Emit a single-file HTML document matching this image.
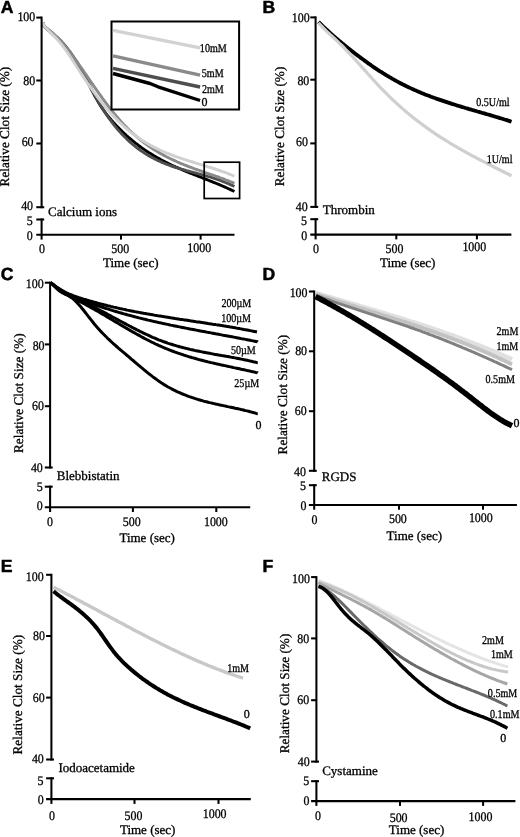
<!DOCTYPE html><html><head><meta charset="utf-8"><style>html,body{margin:0;padding:0;background:#fff;overflow:hidden}svg{display:block;filter:grayscale(1)}text{text-rendering:geometricPrecision}</style></head><body>
<svg width="520" height="837" viewBox="0 0 520 837">
<rect width="520" height="837" fill="#fff"/>
<path d="M43.2,22.8 L44.0,26.0 L45.5,27.5 L47.0,29.0 L48.5,30.4 L50.0,31.7 L51.5,33.0 L53.0,34.3 L54.5,35.6 L56.0,36.9 L57.5,38.2 L59.0,39.6 L60.5,41.1 L62.0,42.6 L63.5,44.3 L65.0,46.0 L66.5,47.8 L68.0,49.7 L69.5,51.7 L71.0,53.7 L72.5,55.9 L74.0,58.1 L75.5,60.5 L77.0,62.9 L78.5,65.4 L80.0,68.0 L81.5,70.6 L83.0,73.4 L84.5,76.2 L86.0,79.1 L87.5,81.9 L89.0,84.8 L90.5,87.7 L92.0,90.6 L93.5,93.4 L95.0,96.2 L96.5,98.9 L98.0,101.5 L99.5,104.0 L101.0,106.4 L102.5,108.6 L104.0,110.8 L105.5,112.9 L107.0,114.8 L108.5,116.7 L110.0,118.5 L111.5,120.3 L113.0,122.0 L114.5,123.6 L116.0,125.2 L117.5,126.8 L119.0,128.3 L120.5,129.8 L122.0,131.3 L123.5,132.7 L125.0,134.1 L126.5,135.5 L128.0,136.8 L129.5,138.1 L131.0,139.4 L132.5,140.7 L134.0,141.9 L135.5,143.1 L137.0,144.2 L138.5,145.4 L140.0,146.5 L141.5,147.6 L143.0,148.6 L144.5,149.7 L146.0,150.7 L147.5,151.7 L149.0,152.7 L150.5,153.6 L152.0,154.5 L153.5,155.5 L155.0,156.3 L156.5,157.2 L158.0,158.1 L159.5,158.9 L161.0,159.7 L162.5,160.5 L164.0,161.3 L165.5,162.1 L167.0,162.8 L168.5,163.6 L170.0,164.3 L171.5,165.0 L173.0,165.7 L174.5,166.4 L176.0,167.1 L177.5,167.7 L179.0,168.4 L180.5,169.0 L182.0,169.7 L183.5,170.3 L185.0,170.9 L186.5,171.6 L188.0,172.2 L189.5,172.8 L191.0,173.4 L192.5,174.0 L194.0,174.6 L195.5,175.2 L197.0,175.7 L198.5,176.3 L200.0,176.9 L201.5,177.5 L203.0,178.1 L204.5,178.7 L206.0,179.3 L207.5,179.9 L209.0,180.5 L210.5,181.1 L212.0,181.7 L213.5,182.3 L215.0,182.9 L216.5,183.5 L218.0,184.1 L219.5,184.7 L221.0,185.4 L222.5,186.0 L224.0,186.7 L225.5,187.3 L227.0,188.0 L228.5,188.7 L230.0,189.4 L231.5,190.1 L233.0,190.8 L234.4,191.5" fill="none" stroke="#000" stroke-width="2.9" stroke-linejoin="round" stroke-linecap="butt" />
<path d="M43.2,22.8 L44.0,26.2 L45.5,27.5 L47.0,28.7 L48.5,30.0 L50.0,31.2 L51.5,32.4 L53.0,33.7 L54.5,35.0 L56.0,36.3 L57.5,37.6 L59.0,39.1 L60.5,40.6 L62.0,42.1 L63.5,43.8 L65.0,45.5 L66.5,47.4 L68.0,49.3 L69.5,51.3 L71.0,53.3 L72.5,55.5 L74.0,57.7 L75.5,60.0 L77.0,62.4 L78.5,64.9 L80.0,67.5 L81.5,70.1 L83.0,72.8 L84.5,75.6 L86.0,78.4 L87.5,81.3 L89.0,84.1 L90.5,87.0 L92.0,89.9 L93.5,92.7 L95.0,95.5 L96.5,98.3 L98.0,101.0 L99.5,103.6 L101.0,106.2 L102.5,108.6 L104.0,111.0 L105.5,113.3 L107.0,115.5 L108.5,117.7 L110.0,119.7 L111.5,121.7 L113.0,123.7 L114.5,125.6 L116.0,127.4 L117.5,129.2 L119.0,130.9 L120.5,132.6 L122.0,134.2 L123.5,135.7 L125.0,137.3 L126.5,138.7 L128.0,140.2 L129.5,141.6 L131.0,142.9 L132.5,144.2 L134.0,145.4 L135.5,146.6 L137.0,147.8 L138.5,149.0 L140.0,150.0 L141.5,151.1 L143.0,152.1 L144.5,153.1 L146.0,154.1 L147.5,155.0 L149.0,155.9 L150.5,156.7 L152.0,157.5 L153.5,158.3 L155.0,159.1 L156.5,159.8 L158.0,160.6 L159.5,161.2 L161.0,161.9 L162.5,162.6 L164.0,163.2 L165.5,163.8 L167.0,164.4 L168.5,164.9 L170.0,165.5 L171.5,166.0 L173.0,166.5 L174.5,167.0 L176.0,167.5 L177.5,167.9 L179.0,168.4 L180.5,168.9 L182.0,169.3 L183.5,169.7 L185.0,170.1 L186.5,170.6 L188.0,171.0 L189.5,171.4 L191.0,171.8 L192.5,172.2 L194.0,172.6 L195.5,173.0 L197.0,173.4 L198.5,173.8 L200.0,174.2 L201.5,174.6 L203.0,175.0 L204.5,175.4 L206.0,175.8 L207.5,176.3 L209.0,176.7 L210.5,177.2 L212.0,177.6 L213.5,178.1 L215.0,178.6 L216.5,179.1 L218.0,179.6 L219.5,180.2 L221.0,180.7 L222.5,181.3 L224.0,181.9 L225.5,182.5 L227.0,183.1 L228.5,183.7 L230.0,184.4 L231.5,185.1 L233.0,185.8 L234.4,186.5" fill="none" stroke="#4e4e4e" stroke-width="2.9" stroke-linejoin="round" stroke-linecap="butt" />
<path d="M43.2,22.8 L44.0,26.1 L45.5,27.3 L47.0,28.4 L48.5,29.6 L50.0,30.9 L51.5,32.1 L53.0,33.4 L54.5,34.8 L56.0,36.2 L57.5,37.6 L59.0,39.2 L60.5,40.7 L62.0,42.4 L63.5,44.1 L65.0,45.9 L66.5,47.7 L68.0,49.6 L69.5,51.5 L71.0,53.5 L72.5,55.5 L74.0,57.5 L75.5,59.6 L77.0,61.7 L78.5,63.8 L80.0,66.0 L81.5,68.1 L83.0,70.3 L84.5,72.5 L86.0,74.6 L87.5,76.8 L89.0,79.0 L90.5,81.2 L92.0,83.4 L93.5,85.5 L95.0,87.7 L96.5,89.8 L98.0,92.0 L99.5,94.1 L101.0,96.2 L102.5,98.3 L104.0,100.3 L105.5,102.4 L107.0,104.4 L108.5,106.4 L110.0,108.3 L111.5,110.2 L113.0,112.1 L114.5,114.0 L116.0,115.8 L117.5,117.5 L119.0,119.2 L120.5,120.9 L122.0,122.6 L123.5,124.2 L125.0,125.7 L126.5,127.3 L128.0,128.8 L129.5,130.2 L131.0,131.6 L132.5,133.0 L134.0,134.4 L135.5,135.7 L137.0,137.0 L138.5,138.2 L140.0,139.5 L141.5,140.7 L143.0,141.8 L144.5,143.0 L146.0,144.1 L147.5,145.2 L149.0,146.2 L150.5,147.2 L152.0,148.2 L153.5,149.2 L155.0,150.2 L156.5,151.1 L158.0,152.0 L159.5,152.9 L161.0,153.7 L162.5,154.6 L164.0,155.4 L165.5,156.2 L167.0,157.0 L168.5,157.7 L170.0,158.5 L171.5,159.2 L173.0,159.9 L174.5,160.6 L176.0,161.3 L177.5,162.0 L179.0,162.6 L180.5,163.3 L182.0,163.9 L183.5,164.5 L185.0,165.1 L186.5,165.7 L188.0,166.3 L189.5,166.9 L191.0,167.4 L192.5,168.0 L194.0,168.6 L195.5,169.1 L197.0,169.6 L198.5,170.2 L200.0,170.7 L201.5,171.2 L203.0,171.8 L204.5,172.3 L206.0,172.8 L207.5,173.3 L209.0,173.9 L210.5,174.4 L212.0,174.9 L213.5,175.4 L215.0,175.9 L216.5,176.5 L218.0,177.0 L219.5,177.5 L221.0,178.1 L222.5,178.6 L224.0,179.2 L225.5,179.8 L227.0,180.3 L228.5,180.9 L230.0,181.5 L231.5,182.1 L233.0,182.7 L234.4,183.3" fill="none" stroke="#8a8a8a" stroke-width="2.9" stroke-linejoin="round" stroke-linecap="butt" />
<path d="M43.2,22.8 L44.0,25.7 L45.5,27.4 L47.0,29.0 L48.5,30.6 L50.0,32.1 L51.5,33.6 L53.0,35.1 L54.5,36.6 L56.0,38.1 L57.5,39.7 L59.0,41.4 L60.5,43.2 L62.0,45.1 L63.5,47.0 L65.0,49.1 L66.5,51.2 L68.0,53.3 L69.5,55.6 L71.0,57.8 L72.5,60.1 L74.0,62.5 L75.5,64.8 L77.0,67.2 L78.5,69.5 L80.0,71.8 L81.5,74.1 L83.0,76.4 L84.5,78.6 L86.0,80.9 L87.5,83.1 L89.0,85.2 L90.5,87.4 L92.0,89.5 L93.5,91.6 L95.0,93.6 L96.5,95.6 L98.0,97.6 L99.5,99.6 L101.0,101.5 L102.5,103.4 L104.0,105.3 L105.5,107.1 L107.0,108.9 L108.5,110.6 L110.0,112.3 L111.5,114.0 L113.0,115.6 L114.5,117.2 L116.0,118.8 L117.5,120.3 L119.0,121.8 L120.5,123.2 L122.0,124.6 L123.5,126.0 L125.0,127.3 L126.5,128.6 L128.0,129.9 L129.5,131.1 L131.0,132.3 L132.5,133.5 L134.0,134.6 L135.5,135.7 L137.0,136.8 L138.5,137.9 L140.0,138.9 L141.5,139.9 L143.0,140.8 L144.5,141.8 L146.0,142.7 L147.5,143.6 L149.0,144.4 L150.5,145.3 L152.0,146.1 L153.5,146.9 L155.0,147.6 L156.5,148.4 L158.0,149.1 L159.5,149.8 L161.0,150.5 L162.5,151.2 L164.0,151.9 L165.5,152.5 L167.0,153.1 L168.5,153.7 L170.0,154.3 L171.5,154.9 L173.0,155.5 L174.5,156.0 L176.0,156.6 L177.5,157.1 L179.0,157.6 L180.5,158.2 L182.0,158.7 L183.5,159.2 L185.0,159.6 L186.5,160.1 L188.0,160.6 L189.5,161.1 L191.0,161.5 L192.5,162.0 L194.0,162.5 L195.5,162.9 L197.0,163.4 L198.5,163.8 L200.0,164.3 L201.5,164.8 L203.0,165.2 L204.5,165.7 L206.0,166.1 L207.5,166.6 L209.0,167.1 L210.5,167.5 L212.0,168.0 L213.5,168.5 L215.0,169.0 L216.5,169.5 L218.0,170.0 L219.5,170.5 L221.0,171.0 L222.5,171.6 L224.0,172.1 L225.5,172.7 L227.0,173.2 L228.5,173.8 L230.0,174.4 L231.5,175.0 L233.0,175.6 L234.4,176.2" fill="none" stroke="#d0d0d0" stroke-width="2.9" stroke-linejoin="round" stroke-linecap="butt" />
<rect x="111.5" y="21.5" width="127.6" height="88" fill="#fff" stroke="#000" stroke-width="2"/>
<path d="M113.0,30.4 L200.1,47.8" fill="none" stroke="#d2d2d2" stroke-width="3.4" stroke-linejoin="round" stroke-linecap="butt" />
<path d="M113.0,55.8 L200.1,75.1" fill="none" stroke="#8a8a8a" stroke-width="3.4" stroke-linejoin="round" stroke-linecap="butt" />
<path d="M113.0,68.3 L200.1,87.0" fill="none" stroke="#4e4e4e" stroke-width="3.4" stroke-linejoin="round" stroke-linecap="butt" />
<path d="M113.0,73.5 L150.0,83.5 L158.0,86.8 L200.1,100.5" fill="none" stroke="#000" stroke-width="3.4" stroke-linejoin="round" stroke-linecap="butt" />
<text transform="translate(199.86,52.38) scale(0.840,1)" font-family='"Liberation Serif", serif' font-weight="normal" font-size="12.0"  stroke="#000" stroke-width="0.3">10mM</text>
<text transform="translate(201.83,77.47) scale(0.840,1)" font-family='"Liberation Serif", serif' font-weight="normal" font-size="12.0"  stroke="#000" stroke-width="0.3">5mM</text>
<text transform="translate(201.90,92.57) scale(0.840,1)" font-family='"Liberation Serif", serif' font-weight="normal" font-size="12.0"  stroke="#000" stroke-width="0.3">2mM</text>
<text transform="translate(201.40,106.23)" font-family='"Liberation Serif", serif' font-weight="normal" font-size="12.0"  stroke="#000" stroke-width="0.3">0</text>
<rect x="204.2" y="162.2" width="35.4" height="36.3" fill="none" stroke="#000" stroke-width="1.7"/>
<path d="M318.5,21.8 L320.0,23.3 L321.5,24.8 L323.0,26.3 L324.5,27.7 L326.0,29.1 L327.5,30.5 L329.0,31.9 L330.5,33.3 L332.0,34.6 L333.5,36.0 L335.0,37.3 L336.5,38.6 L338.0,39.8 L339.5,41.1 L341.0,42.3 L342.5,43.6 L344.0,44.8 L345.5,46.0 L347.0,47.2 L348.5,48.4 L350.0,49.6 L351.5,50.8 L353.0,51.9 L354.5,53.1 L356.0,54.2 L357.5,55.4 L359.0,56.5 L360.5,57.6 L362.0,58.7 L363.5,59.8 L365.0,60.9 L366.5,62.0 L368.0,63.1 L369.5,64.2 L371.0,65.2 L372.5,66.3 L374.0,67.3 L375.5,68.3 L377.0,69.3 L378.5,70.3 L380.0,71.3 L381.5,72.2 L383.0,73.2 L384.5,74.1 L386.0,75.0 L387.5,76.0 L389.0,76.8 L390.5,77.7 L392.0,78.6 L393.5,79.4 L395.0,80.3 L396.5,81.1 L398.0,81.9 L399.5,82.7 L401.0,83.5 L402.5,84.3 L404.0,85.0 L405.5,85.8 L407.0,86.5 L408.5,87.2 L410.0,87.9 L411.5,88.6 L413.0,89.3 L414.5,90.0 L416.0,90.6 L417.5,91.3 L419.0,91.9 L420.5,92.5 L422.0,93.2 L423.5,93.8 L425.0,94.4 L426.5,95.0 L428.0,95.5 L429.5,96.1 L431.0,96.7 L432.5,97.2 L434.0,97.8 L435.5,98.3 L437.0,98.9 L438.5,99.4 L440.0,99.9 L441.5,100.4 L443.0,100.9 L444.5,101.4 L446.0,101.9 L447.5,102.4 L449.0,102.9 L450.5,103.4 L452.0,103.9 L453.5,104.3 L455.0,104.8 L456.5,105.3 L458.0,105.7 L459.5,106.2 L461.0,106.6 L462.5,107.1 L464.0,107.5 L465.5,108.0 L467.0,108.4 L468.5,108.9 L470.0,109.3 L471.5,109.7 L473.0,110.2 L474.5,110.6 L476.0,111.0 L477.5,111.5 L479.0,111.9 L480.5,112.3 L482.0,112.8 L483.5,113.2 L485.0,113.6 L486.5,114.1 L488.0,114.5 L489.5,114.9 L491.0,115.4 L492.5,115.8 L494.0,116.3 L495.5,116.7 L497.0,117.2 L498.5,117.6 L500.0,118.1 L501.5,118.5 L503.0,119.0 L504.5,119.5 L506.0,119.9 L507.5,120.4 L509.0,120.9 L510.5,121.4 L511.5,121.7" fill="none" stroke="#000" stroke-width="3.8" stroke-linejoin="round" stroke-linecap="butt" />
<path d="M318.5,22.8 L320.0,24.5 L321.5,26.1 L323.0,27.7 L324.5,29.2 L326.0,30.7 L327.5,32.1 L329.0,33.5 L330.5,34.9 L332.0,36.2 L333.5,37.6 L335.0,39.0 L336.5,40.4 L338.0,41.8 L339.5,43.3 L341.0,44.7 L342.5,46.2 L344.0,47.7 L345.5,49.3 L347.0,50.8 L348.5,52.4 L350.0,54.0 L351.5,55.6 L353.0,57.2 L354.5,58.9 L356.0,60.5 L357.5,62.2 L359.0,63.9 L360.5,65.6 L362.0,67.2 L363.5,68.9 L365.0,70.6 L366.5,72.3 L368.0,74.0 L369.5,75.6 L371.0,77.3 L372.5,79.0 L374.0,80.6 L375.5,82.3 L377.0,83.9 L378.5,85.5 L380.0,87.1 L381.5,88.6 L383.0,90.2 L384.5,91.7 L386.0,93.2 L387.5,94.7 L389.0,96.2 L390.5,97.6 L392.0,99.1 L393.5,100.5 L395.0,101.9 L396.5,103.3 L398.0,104.6 L399.5,106.0 L401.0,107.3 L402.5,108.6 L404.0,109.9 L405.5,111.2 L407.0,112.5 L408.5,113.7 L410.0,114.9 L411.5,116.2 L413.0,117.4 L414.5,118.6 L416.0,119.7 L417.5,120.9 L419.0,122.0 L420.5,123.2 L422.0,124.3 L423.5,125.4 L425.0,126.5 L426.5,127.6 L428.0,128.7 L429.5,129.7 L431.0,130.8 L432.5,131.8 L434.0,132.8 L435.5,133.8 L437.0,134.8 L438.5,135.8 L440.0,136.8 L441.5,137.8 L443.0,138.7 L444.5,139.7 L446.0,140.6 L447.5,141.5 L449.0,142.5 L450.5,143.4 L452.0,144.3 L453.5,145.2 L455.0,146.1 L456.5,146.9 L458.0,147.8 L459.5,148.7 L461.0,149.5 L462.5,150.4 L464.0,151.2 L465.5,152.0 L467.0,152.9 L468.5,153.7 L470.0,154.5 L471.5,155.3 L473.0,156.1 L474.5,156.9 L476.0,157.7 L477.5,158.5 L479.0,159.3 L480.5,160.1 L482.0,160.9 L483.5,161.6 L485.0,162.4 L486.5,163.2 L488.0,164.0 L489.5,164.7 L491.0,165.5 L492.5,166.2 L494.0,167.0 L495.5,167.8 L497.0,168.5 L498.5,169.3 L500.0,170.0 L501.5,170.8 L503.0,171.5 L504.5,172.3 L506.0,173.0 L507.5,173.8 L509.0,174.5 L510.5,175.3 L511.5,175.8" fill="none" stroke="#cfcfcf" stroke-width="3.2" stroke-linejoin="round" stroke-linecap="butt" />
<text transform="translate(476.25,106.28) scale(0.840,1)" font-family='"Liberation Serif", serif' font-weight="normal" font-size="12.0"  stroke="#000" stroke-width="0.3">0.5U/ml</text>
<text transform="translate(486.68,162.90) scale(0.840,1)" font-family='"Liberation Serif", serif' font-weight="normal" font-size="12.0"  stroke="#000" stroke-width="0.3">1U/ml</text>
<path d="M50.6,282.6 L52.1,283.7 L53.6,284.8 L55.1,285.9 L56.6,287.0 L58.1,288.0 L59.6,288.9 L61.1,289.9 L62.6,290.7 L64.1,291.6 L65.6,292.4 L67.1,293.1 L68.6,293.8 L70.1,294.4 L71.6,295.0 L73.1,295.6 L74.6,296.1 L76.1,296.7 L77.6,297.2 L79.1,297.7 L80.6,298.1 L82.1,298.6 L83.6,299.1 L85.1,299.5 L86.6,300.0 L88.1,300.4 L89.6,300.9 L91.1,301.3 L92.6,301.7 L94.1,302.1 L95.6,302.5 L97.1,303.0 L98.6,303.4 L100.1,303.8 L101.6,304.1 L103.1,304.5 L104.6,304.9 L106.1,305.3 L107.6,305.7 L109.1,306.0 L110.6,306.4 L112.1,306.7 L113.6,307.1 L115.1,307.4 L116.6,307.8 L118.1,308.1 L119.6,308.5 L121.1,308.8 L122.6,309.1 L124.1,309.4 L125.6,309.7 L127.1,310.1 L128.6,310.4 L130.1,310.7 L131.6,311.0 L133.1,311.3 L134.6,311.6 L136.1,311.9 L137.6,312.1 L139.1,312.4 L140.6,312.7 L142.1,313.0 L143.6,313.3 L145.1,313.5 L146.6,313.8 L148.1,314.1 L149.6,314.3 L151.1,314.6 L152.6,314.8 L154.1,315.1 L155.6,315.4 L157.1,315.6 L158.6,315.9 L160.1,316.1 L161.6,316.3 L163.1,316.6 L164.6,316.8 L166.1,317.1 L167.6,317.3 L169.1,317.5 L170.6,317.8 L172.1,318.0 L173.6,318.2 L175.1,318.5 L176.6,318.7 L178.1,318.9 L179.6,319.2 L181.1,319.4 L182.6,319.6 L184.1,319.9 L185.6,320.1 L187.1,320.3 L188.6,320.5 L190.1,320.8 L191.6,321.0 L193.1,321.2 L194.6,321.4 L196.1,321.7 L197.6,321.9 L199.1,322.1 L200.6,322.3 L202.1,322.6 L203.6,322.8 L205.1,323.0 L206.6,323.2 L208.1,323.5 L209.6,323.7 L211.1,323.9 L212.6,324.2 L214.1,324.4 L215.6,324.6 L217.1,324.9 L218.6,325.1 L220.1,325.3 L221.6,325.6 L223.1,325.8 L224.6,326.1 L226.1,326.3 L227.6,326.6 L229.1,326.8 L230.6,327.1 L232.1,327.3 L233.6,327.6 L235.1,327.8 L236.6,328.1 L238.1,328.4 L239.6,328.6 L241.1,328.9 L242.6,329.2 L244.1,329.5 L245.6,329.7 L247.1,330.0 L248.6,330.3 L250.1,330.6 L251.6,330.9 L253.1,331.2 L254.6,331.5 L256.1,331.8 L257.0,332.0" fill="none" stroke="#000" stroke-width="3" stroke-linejoin="round" stroke-linecap="butt" />
<path d="M50.6,282.7 L52.1,283.9 L53.6,285.1 L55.1,286.2 L56.6,287.3 L58.1,288.3 L59.6,289.3 L61.1,290.2 L62.6,291.1 L64.1,292.0 L65.6,292.8 L67.1,293.5 L68.6,294.3 L70.1,295.0 L71.6,295.7 L73.1,296.3 L74.6,297.0 L76.1,297.6 L77.6,298.2 L79.1,298.8 L80.6,299.4 L82.1,300.0 L83.6,300.6 L85.1,301.1 L86.6,301.7 L88.1,302.3 L89.6,302.8 L91.1,303.4 L92.6,303.9 L94.1,304.4 L95.6,305.0 L97.1,305.5 L98.6,306.0 L100.1,306.5 L101.6,307.0 L103.1,307.5 L104.6,308.0 L106.1,308.5 L107.6,308.9 L109.1,309.4 L110.6,309.9 L112.1,310.4 L113.6,310.8 L115.1,311.3 L116.6,311.7 L118.1,312.2 L119.6,312.6 L121.1,313.0 L122.6,313.5 L124.1,313.9 L125.6,314.3 L127.1,314.7 L128.6,315.1 L130.1,315.5 L131.6,315.9 L133.1,316.3 L134.6,316.7 L136.1,317.1 L137.6,317.5 L139.1,317.9 L140.6,318.2 L142.1,318.6 L143.6,319.0 L145.1,319.3 L146.6,319.7 L148.1,320.1 L149.6,320.4 L151.1,320.8 L152.6,321.1 L154.1,321.5 L155.6,321.8 L157.1,322.1 L158.6,322.5 L160.1,322.8 L161.6,323.1 L163.1,323.5 L164.6,323.8 L166.1,324.1 L167.6,324.4 L169.1,324.7 L170.6,325.1 L172.1,325.4 L173.6,325.7 L175.1,326.0 L176.6,326.3 L178.1,326.6 L179.6,326.9 L181.1,327.2 L182.6,327.5 L184.1,327.8 L185.6,328.1 L187.1,328.4 L188.6,328.7 L190.1,329.0 L191.6,329.2 L193.1,329.5 L194.6,329.8 L196.1,330.1 L197.6,330.4 L199.1,330.7 L200.6,331.0 L202.1,331.2 L203.6,331.5 L205.1,331.8 L206.6,332.1 L208.1,332.4 L209.6,332.6 L211.1,332.9 L212.6,333.2 L214.1,333.5 L215.6,333.8 L217.1,334.0 L218.6,334.3 L220.1,334.6 L221.6,334.9 L223.1,335.2 L224.6,335.4 L226.1,335.7 L227.6,336.0 L229.1,336.3 L230.6,336.6 L232.1,336.8 L233.6,337.1 L235.1,337.4 L236.6,337.7 L238.1,338.0 L239.6,338.3 L241.1,338.6 L242.6,338.9 L244.1,339.1 L245.6,339.4 L247.1,339.7 L248.6,340.0 L250.1,340.3 L251.6,340.6 L253.1,340.9 L254.6,341.2 L256.1,341.5 L257.6,341.8 L257.7,341.9" fill="none" stroke="#000" stroke-width="3" stroke-linejoin="round" stroke-linecap="butt" />
<path d="M50.6,282.8 L52.1,283.8 L53.6,285.0 L55.1,286.3 L56.6,287.5 L58.1,288.7 L59.6,289.8 L61.1,290.9 L62.6,291.9 L64.1,292.8 L65.6,293.7 L67.1,294.5 L68.6,295.3 L70.1,296.1 L71.6,296.8 L73.1,297.5 L74.6,298.1 L76.1,298.8 L77.6,299.4 L79.1,300.1 L80.6,300.8 L82.1,301.4 L83.6,302.1 L85.1,302.8 L86.6,303.5 L88.1,304.2 L89.6,305.0 L91.1,305.7 L92.6,306.4 L94.1,307.2 L95.6,307.9 L97.1,308.7 L98.6,309.5 L100.1,310.3 L101.6,311.0 L103.1,311.8 L104.6,312.6 L106.1,313.4 L107.6,314.2 L109.1,315.0 L110.6,315.8 L112.1,316.7 L113.6,317.5 L115.1,318.3 L116.6,319.1 L118.1,319.9 L119.6,320.7 L121.1,321.5 L122.6,322.3 L124.1,323.1 L125.6,323.9 L127.1,324.7 L128.6,325.5 L130.1,326.3 L131.6,327.1 L133.1,327.9 L134.6,328.6 L136.1,329.4 L137.6,330.2 L139.1,330.9 L140.6,331.7 L142.1,332.4 L143.6,333.1 L145.1,333.8 L146.6,334.5 L148.1,335.2 L149.6,335.9 L151.1,336.6 L152.6,337.3 L154.1,337.9 L155.6,338.5 L157.1,339.1 L158.6,339.8 L160.1,340.3 L161.6,340.9 L163.1,341.5 L164.6,342.0 L166.1,342.5 L167.6,343.1 L169.1,343.6 L170.6,344.0 L172.1,344.5 L173.6,345.0 L175.1,345.4 L176.6,345.9 L178.1,346.3 L179.6,346.7 L181.1,347.1 L182.6,347.5 L184.1,347.9 L185.6,348.3 L187.1,348.6 L188.6,349.0 L190.1,349.4 L191.6,349.7 L193.1,350.0 L194.6,350.4 L196.1,350.7 L197.6,351.0 L199.1,351.3 L200.6,351.6 L202.1,351.9 L203.6,352.2 L205.1,352.5 L206.6,352.8 L208.1,353.1 L209.6,353.3 L211.1,353.6 L212.6,353.9 L214.1,354.2 L215.6,354.4 L217.1,354.7 L218.6,355.0 L220.1,355.2 L221.6,355.5 L223.1,355.7 L224.6,356.0 L226.1,356.3 L227.6,356.5 L229.1,356.8 L230.6,357.1 L232.1,357.4 L233.6,357.6 L235.1,357.9 L236.6,358.2 L238.1,358.5 L239.6,358.8 L241.1,359.1 L242.6,359.4 L244.1,359.7 L245.6,360.0 L247.1,360.3 L248.6,360.6 L250.1,361.0 L251.6,361.3 L253.1,361.7 L254.6,362.0 L256.1,362.4 L257.6,362.8 L257.7,362.8" fill="none" stroke="#000" stroke-width="3" stroke-linejoin="round" stroke-linecap="butt" />
<path d="M50.6,282.8 L52.1,283.8 L53.6,285.2 L55.1,286.7 L56.6,288.0 L58.1,289.2 L59.6,290.4 L61.1,291.4 L62.6,292.3 L64.1,293.3 L65.6,294.1 L67.1,295.0 L68.6,295.8 L70.1,296.6 L71.6,297.3 L73.1,298.1 L74.6,298.9 L76.1,299.6 L77.6,300.4 L79.1,301.2 L80.6,301.9 L82.1,302.7 L83.6,303.5 L85.1,304.3 L86.6,305.1 L88.1,305.9 L89.6,306.7 L91.1,307.6 L92.6,308.4 L94.1,309.3 L95.6,310.1 L97.1,311.0 L98.6,311.8 L100.1,312.7 L101.6,313.6 L103.1,314.5 L104.6,315.3 L106.1,316.2 L107.6,317.1 L109.1,318.0 L110.6,318.9 L112.1,319.8 L113.6,320.7 L115.1,321.6 L116.6,322.4 L118.1,323.3 L119.6,324.2 L121.1,325.1 L122.6,326.0 L124.1,326.9 L125.6,327.7 L127.1,328.6 L128.6,329.5 L130.1,330.4 L131.6,331.2 L133.1,332.1 L134.6,332.9 L136.1,333.8 L137.6,334.6 L139.1,335.4 L140.6,336.3 L142.1,337.1 L143.6,337.9 L145.1,338.7 L146.6,339.5 L148.1,340.2 L149.6,341.0 L151.1,341.8 L152.6,342.5 L154.1,343.2 L155.6,344.0 L157.1,344.7 L158.6,345.4 L160.1,346.0 L161.6,346.7 L163.1,347.3 L164.6,348.0 L166.1,348.6 L167.6,349.2 L169.1,349.8 L170.6,350.4 L172.1,351.0 L173.6,351.5 L175.1,352.1 L176.6,352.6 L178.1,353.2 L179.6,353.7 L181.1,354.2 L182.6,354.7 L184.1,355.2 L185.6,355.6 L187.1,356.1 L188.6,356.6 L190.1,357.0 L191.6,357.5 L193.1,357.9 L194.6,358.3 L196.1,358.7 L197.6,359.2 L199.1,359.6 L200.6,360.0 L202.1,360.3 L203.6,360.7 L205.1,361.1 L206.6,361.5 L208.1,361.9 L209.6,362.2 L211.1,362.6 L212.6,362.9 L214.1,363.3 L215.6,363.6 L217.1,364.0 L218.6,364.3 L220.1,364.6 L221.6,365.0 L223.1,365.3 L224.6,365.6 L226.1,365.9 L227.6,366.3 L229.1,366.6 L230.6,366.9 L232.1,367.2 L233.6,367.6 L235.1,367.9 L236.6,368.2 L238.1,368.5 L239.6,368.8 L241.1,369.2 L242.6,369.5 L244.1,369.8 L245.6,370.1 L247.1,370.5 L248.6,370.8 L250.1,371.1 L251.6,371.5 L253.1,371.8 L254.6,372.1 L256.1,372.5 L257.6,372.8 L257.7,372.9" fill="none" stroke="#000" stroke-width="3" stroke-linejoin="round" stroke-linecap="butt" />
<path d="M50.6,282.5 L52.1,284.0 L53.6,285.5 L55.1,287.0 L56.6,288.4 L58.1,289.8 L59.6,291.0 L61.1,292.0 L62.6,292.9 L64.1,293.6 L65.6,294.3 L67.1,295.0 L68.6,295.8 L70.1,296.7 L71.6,297.7 L73.1,298.9 L74.6,300.2 L76.1,301.7 L77.6,303.2 L79.1,304.9 L80.6,306.6 L82.1,308.5 L83.6,310.3 L85.1,312.2 L86.6,314.1 L88.1,316.1 L89.6,318.0 L91.1,319.9 L92.6,321.8 L94.1,323.7 L95.6,325.5 L97.1,327.2 L98.6,328.9 L100.1,330.6 L101.6,332.2 L103.1,333.8 L104.6,335.3 L106.1,336.8 L107.6,338.3 L109.1,339.7 L110.6,341.1 L112.1,342.5 L113.6,343.9 L115.1,345.2 L116.6,346.5 L118.1,347.8 L119.6,349.1 L121.1,350.4 L122.6,351.7 L124.1,352.9 L125.6,354.2 L127.1,355.5 L128.6,356.7 L130.1,358.0 L131.6,359.3 L133.1,360.5 L134.6,361.8 L136.1,363.1 L137.6,364.4 L139.1,365.6 L140.6,366.9 L142.1,368.1 L143.6,369.4 L145.1,370.6 L146.6,371.9 L148.1,373.1 L149.6,374.3 L151.1,375.4 L152.6,376.6 L154.1,377.7 L155.6,378.8 L157.1,379.9 L158.6,381.0 L160.1,382.0 L161.6,383.0 L163.1,383.9 L164.6,384.9 L166.1,385.8 L167.6,386.7 L169.1,387.5 L170.6,388.3 L172.1,389.1 L173.6,389.9 L175.1,390.6 L176.6,391.4 L178.1,392.1 L179.6,392.7 L181.1,393.4 L182.6,394.0 L184.1,394.6 L185.6,395.2 L187.1,395.8 L188.6,396.4 L190.1,396.9 L191.6,397.4 L193.1,397.9 L194.6,398.4 L196.1,398.9 L197.6,399.3 L199.1,399.8 L200.6,400.2 L202.1,400.6 L203.6,401.1 L205.1,401.5 L206.6,401.8 L208.1,402.2 L209.6,402.6 L211.1,402.9 L212.6,403.3 L214.1,403.6 L215.6,404.0 L217.1,404.3 L218.6,404.6 L220.1,405.0 L221.6,405.3 L223.1,405.6 L224.6,405.9 L226.1,406.2 L227.6,406.6 L229.1,406.9 L230.6,407.2 L232.1,407.5 L233.6,407.8 L235.1,408.2 L236.6,408.5 L238.1,408.8 L239.6,409.1 L241.1,409.5 L242.6,409.8 L244.1,410.2 L245.6,410.6 L247.1,410.9 L248.6,411.3 L250.1,411.7 L251.6,412.1 L253.1,412.5 L254.6,412.9 L256.1,413.4 L257.6,413.8 L257.7,413.8" fill="none" stroke="#000" stroke-width="3" stroke-linejoin="round" stroke-linecap="butt" />
<text transform="translate(221.38,306.51) scale(0.840,1)" font-family='"Liberation Serif", serif' font-weight="normal" font-size="12.0"  stroke="#000" stroke-width="0.3">200µM</text>
<text transform="translate(221.16,321.51) scale(0.840,1)" font-family='"Liberation Serif", serif' font-weight="normal" font-size="12.0"  stroke="#000" stroke-width="0.3">100µM</text>
<text transform="translate(230.93,354.21) scale(0.840,1)" font-family='"Liberation Serif", serif' font-weight="normal" font-size="12.0"  stroke="#000" stroke-width="0.3">50µM</text>
<text transform="translate(234.30,386.80) scale(0.840,1)" font-family='"Liberation Serif", serif' font-weight="normal" font-size="12.0"  stroke="#000" stroke-width="0.3">25µM</text>
<text transform="translate(255.40,428.93)" font-family='"Liberation Serif", serif' font-weight="normal" font-size="12.0"  stroke="#000" stroke-width="0.3">0</text>
<path d="M316.0,293.0 L317.5,293.5 L319.0,293.9 L320.5,294.4 L322.0,294.8 L323.5,295.3 L325.0,295.7 L326.5,296.1 L328.0,296.6 L329.5,297.0 L331.0,297.5 L332.5,297.9 L334.0,298.3 L335.5,298.8 L337.0,299.2 L338.5,299.7 L340.0,300.1 L341.5,300.5 L343.0,301.0 L344.5,301.4 L346.0,301.9 L347.5,302.3 L349.0,302.7 L350.5,303.2 L352.0,303.6 L353.5,304.1 L355.0,304.5 L356.5,304.9 L358.0,305.4 L359.5,305.8 L361.0,306.3 L362.5,306.7 L364.0,307.1 L365.5,307.6 L367.0,308.0 L368.5,308.5 L370.0,308.9 L371.5,309.4 L373.0,309.8 L374.5,310.2 L376.0,310.7 L377.5,311.1 L379.0,311.6 L380.5,312.0 L382.0,312.5 L383.5,312.9 L385.0,313.4 L386.5,313.9 L388.0,314.3 L389.5,314.8 L391.0,315.2 L392.5,315.7 L394.0,316.1 L395.5,316.6 L397.0,317.1 L398.5,317.5 L400.0,318.0 L401.5,318.5 L403.0,318.9 L404.5,319.4 L406.0,319.9 L407.5,320.3 L409.0,320.8 L410.5,321.3 L412.0,321.8 L413.5,322.2 L415.0,322.7 L416.5,323.2 L418.0,323.7 L419.5,324.2 L421.0,324.7 L422.5,325.2 L424.0,325.7 L425.5,326.1 L427.0,326.6 L428.5,327.1 L430.0,327.6 L431.5,328.1 L433.0,328.7 L434.5,329.2 L436.0,329.7 L437.5,330.2 L439.0,330.7 L440.5,331.2 L442.0,331.7 L443.5,332.3 L445.0,332.8 L446.5,333.3 L448.0,333.8 L449.5,334.4 L451.0,334.9 L452.5,335.4 L454.0,336.0 L455.5,336.5 L457.0,337.1 L458.5,337.6 L460.0,338.2 L461.5,338.7 L463.0,339.3 L464.5,339.8 L466.0,340.4 L467.5,341.0 L469.0,341.5 L470.5,342.1 L472.0,342.7 L473.5,343.3 L475.0,343.9 L476.5,344.4 L478.0,345.0 L479.5,345.6 L481.0,346.2 L482.5,346.8 L484.0,347.4 L485.5,348.0 L487.0,348.6 L488.5,349.3 L490.0,349.9 L491.5,350.5 L493.0,351.1 L494.5,351.7 L496.0,352.4 L497.5,353.0 L499.0,353.7 L500.5,354.3 L502.0,354.9 L503.5,355.6 L505.0,356.3 L506.5,356.9 L508.0,357.6 L509.5,358.2 L511.0,358.9 L512.0,359.4" fill="none" stroke="#e0e0e0" stroke-width="4.5" stroke-linejoin="round" stroke-linecap="butt" />
<path d="M316.0,294.2 L317.5,294.7 L319.0,295.1 L320.5,295.6 L322.0,296.1 L323.5,296.6 L325.0,297.1 L326.5,297.5 L328.0,298.0 L329.5,298.5 L331.0,299.0 L332.5,299.4 L334.0,299.9 L335.5,300.4 L337.0,300.8 L338.5,301.3 L340.0,301.8 L341.5,302.3 L343.0,302.7 L344.5,303.2 L346.0,303.7 L347.5,304.1 L349.0,304.6 L350.5,305.1 L352.0,305.5 L353.5,306.0 L355.0,306.4 L356.5,306.9 L358.0,307.4 L359.5,307.8 L361.0,308.3 L362.5,308.8 L364.0,309.2 L365.5,309.7 L367.0,310.2 L368.5,310.6 L370.0,311.1 L371.5,311.6 L373.0,312.0 L374.5,312.5 L376.0,313.0 L377.5,313.4 L379.0,313.9 L380.5,314.4 L382.0,314.8 L383.5,315.3 L385.0,315.8 L386.5,316.3 L388.0,316.7 L389.5,317.2 L391.0,317.7 L392.5,318.2 L394.0,318.6 L395.5,319.1 L397.0,319.6 L398.5,320.1 L400.0,320.6 L401.5,321.1 L403.0,321.5 L404.5,322.0 L406.0,322.5 L407.5,323.0 L409.0,323.5 L410.5,324.0 L412.0,324.5 L413.5,325.0 L415.0,325.5 L416.5,326.0 L418.0,326.5 L419.5,327.0 L421.0,327.5 L422.5,328.0 L424.0,328.6 L425.5,329.1 L427.0,329.6 L428.5,330.1 L430.0,330.6 L431.5,331.2 L433.0,331.7 L434.5,332.2 L436.0,332.7 L437.5,333.3 L439.0,333.8 L440.5,334.4 L442.0,334.9 L443.5,335.4 L445.0,336.0 L446.5,336.5 L448.0,337.1 L449.5,337.7 L451.0,338.2 L452.5,338.8 L454.0,339.4 L455.5,339.9 L457.0,340.5 L458.5,341.1 L460.0,341.7 L461.5,342.2 L463.0,342.8 L464.5,343.4 L466.0,344.0 L467.5,344.6 L469.0,345.2 L470.5,345.8 L472.0,346.4 L473.5,347.1 L475.0,347.7 L476.5,348.3 L478.0,348.9 L479.5,349.6 L481.0,350.2 L482.5,350.8 L484.0,351.5 L485.5,352.1 L487.0,352.8 L488.5,353.4 L490.0,354.1 L491.5,354.8 L493.0,355.4 L494.5,356.1 L496.0,356.8 L497.5,357.5 L499.0,358.2 L500.5,358.9 L502.0,359.6 L503.5,360.3 L505.0,361.0 L506.5,361.7 L508.0,362.4 L509.5,363.1 L511.0,363.9 L512.0,364.3" fill="none" stroke="#c2c2c2" stroke-width="4" stroke-linejoin="round" stroke-linecap="butt" />
<path d="M316.0,295.3 L317.5,295.9 L319.0,296.5 L320.5,297.0 L322.0,297.5 L323.5,298.1 L325.0,298.6 L326.5,299.2 L328.0,299.7 L329.5,300.2 L331.0,300.8 L332.5,301.3 L334.0,301.8 L335.5,302.3 L337.0,302.8 L338.5,303.4 L340.0,303.9 L341.5,304.4 L343.0,304.9 L344.5,305.4 L346.0,305.9 L347.5,306.4 L349.0,306.9 L350.5,307.4 L352.0,307.9 L353.5,308.4 L355.0,308.9 L356.5,309.4 L358.0,309.9 L359.5,310.4 L361.0,310.9 L362.5,311.4 L364.0,311.9 L365.5,312.4 L367.0,312.9 L368.5,313.4 L370.0,313.9 L371.5,314.3 L373.0,314.8 L374.5,315.3 L376.0,315.8 L377.5,316.3 L379.0,316.8 L380.5,317.3 L382.0,317.8 L383.5,318.3 L385.0,318.8 L386.5,319.3 L388.0,319.8 L389.5,320.3 L391.0,320.8 L392.5,321.3 L394.0,321.8 L395.5,322.3 L397.0,322.8 L398.5,323.3 L400.0,323.8 L401.5,324.3 L403.0,324.9 L404.5,325.4 L406.0,325.9 L407.5,326.4 L409.0,326.9 L410.5,327.5 L412.0,328.0 L413.5,328.5 L415.0,329.1 L416.5,329.6 L418.0,330.1 L419.5,330.7 L421.0,331.2 L422.5,331.8 L424.0,332.3 L425.5,332.9 L427.0,333.4 L428.5,334.0 L430.0,334.6 L431.5,335.1 L433.0,335.7 L434.5,336.3 L436.0,336.9 L437.5,337.4 L439.0,338.0 L440.5,338.6 L442.0,339.2 L443.5,339.8 L445.0,340.4 L446.5,341.0 L448.0,341.6 L449.5,342.2 L451.0,342.8 L452.5,343.4 L454.0,344.0 L455.5,344.6 L457.0,345.3 L458.5,345.9 L460.0,346.5 L461.5,347.1 L463.0,347.8 L464.5,348.4 L466.0,349.0 L467.5,349.7 L469.0,350.3 L470.5,350.9 L472.0,351.6 L473.5,352.2 L475.0,352.9 L476.5,353.5 L478.0,354.2 L479.5,354.8 L481.0,355.5 L482.5,356.2 L484.0,356.8 L485.5,357.5 L487.0,358.2 L488.5,358.8 L490.0,359.5 L491.5,360.2 L493.0,360.9 L494.5,361.6 L496.0,362.2 L497.5,362.9 L499.0,363.6 L500.5,364.3 L502.0,365.0 L503.5,365.7 L505.0,366.4 L506.5,367.1 L508.0,367.8 L509.5,368.5 L511.0,369.2 L512.0,369.7" fill="none" stroke="#808080" stroke-width="3" stroke-linejoin="round" stroke-linecap="butt" />
<path d="M315.5,296.6 L317.0,297.4 L318.5,298.1 L320.0,298.9 L321.5,299.7 L323.0,300.5 L324.5,301.3 L326.0,302.1 L327.5,302.9 L329.0,303.7 L330.5,304.5 L332.0,305.4 L333.5,306.2 L335.0,307.0 L336.5,307.9 L338.0,308.7 L339.5,309.6 L341.0,310.4 L342.5,311.3 L344.0,312.1 L345.5,313.0 L347.0,313.9 L348.5,314.8 L350.0,315.6 L351.5,316.5 L353.0,317.4 L354.5,318.3 L356.0,319.2 L357.5,320.1 L359.0,321.0 L360.5,322.0 L362.0,322.9 L363.5,323.8 L365.0,324.7 L366.5,325.7 L368.0,326.6 L369.5,327.5 L371.0,328.5 L372.5,329.4 L374.0,330.4 L375.5,331.3 L377.0,332.3 L378.5,333.2 L380.0,334.2 L381.5,335.2 L383.0,336.1 L384.5,337.1 L386.0,338.1 L387.5,339.0 L389.0,340.0 L390.5,341.0 L392.0,342.0 L393.5,343.0 L395.0,344.0 L396.5,345.0 L398.0,346.0 L399.5,347.0 L401.0,348.0 L402.5,349.0 L404.0,350.0 L405.5,351.0 L407.0,352.0 L408.5,353.0 L410.0,354.0 L411.5,355.0 L413.0,356.0 L414.5,357.1 L416.0,358.1 L417.5,359.1 L419.0,360.1 L420.5,361.1 L422.0,362.2 L423.5,363.2 L425.0,364.2 L426.5,365.2 L428.0,366.3 L429.5,367.3 L431.0,368.4 L432.5,369.4 L434.0,370.4 L435.5,371.5 L437.0,372.5 L438.5,373.6 L440.0,374.7 L441.5,375.7 L443.0,376.8 L444.5,377.9 L446.0,378.9 L447.5,380.0 L449.0,381.1 L450.5,382.2 L452.0,383.3 L453.5,384.4 L455.0,385.5 L456.5,386.7 L458.0,387.8 L459.5,388.9 L461.0,390.1 L462.5,391.2 L464.0,392.4 L465.5,393.5 L467.0,394.7 L468.5,395.9 L470.0,397.0 L471.5,398.2 L473.0,399.4 L474.5,400.6 L476.0,401.7 L477.5,402.9 L479.0,404.1 L480.5,405.2 L482.0,406.4 L483.5,407.6 L485.0,408.7 L486.5,409.8 L488.0,411.0 L489.5,412.1 L491.0,413.2 L492.5,414.2 L494.0,415.3 L495.5,416.3 L497.0,417.3 L498.5,418.3 L500.0,419.3 L501.5,420.2 L503.0,421.1 L504.5,422.0 L506.0,422.8 L507.5,423.6 L509.0,424.3 L510.5,425.0 L512.0,425.7" fill="none" stroke="#000" stroke-width="5.5" stroke-linejoin="round" stroke-linecap="butt" />
<text transform="translate(496.50,334.67) scale(0.840,1)" font-family='"Liberation Serif", serif' font-weight="normal" font-size="12.0"  stroke="#000" stroke-width="0.3">2mM</text>
<text transform="translate(496.38,350.46) scale(0.840,1)" font-family='"Liberation Serif", serif' font-weight="normal" font-size="12.0"  stroke="#000" stroke-width="0.3">1mM</text>
<text transform="translate(485.55,382.71) scale(0.840,1)" font-family='"Liberation Serif", serif' font-weight="normal" font-size="12.0"  stroke="#000" stroke-width="0.3">0.5mM</text>
<text transform="translate(513.50,427.33)" font-family='"Liberation Serif", serif' font-weight="normal" font-size="12.0"  stroke="#000" stroke-width="0.3">0</text>
<path d="M53.5,587.2 L55.0,587.9 L56.5,588.7 L58.0,589.5 L59.5,590.3 L61.0,591.0 L62.5,591.8 L64.0,592.6 L65.5,593.4 L67.0,594.2 L68.5,594.9 L70.0,595.7 L71.5,596.5 L73.0,597.3 L74.5,598.1 L76.0,598.9 L77.5,599.7 L79.0,600.5 L80.5,601.3 L82.0,602.1 L83.5,602.9 L85.0,603.7 L86.5,604.5 L88.0,605.3 L89.5,606.1 L91.0,606.9 L92.5,607.7 L94.0,608.5 L95.5,609.3 L97.0,610.1 L98.5,610.9 L100.0,611.7 L101.5,612.6 L103.0,613.4 L104.5,614.2 L106.0,615.0 L107.5,615.8 L109.0,616.6 L110.5,617.4 L112.0,618.2 L113.5,619.0 L115.0,619.8 L116.5,620.6 L118.0,621.4 L119.5,622.2 L121.0,623.0 L122.5,623.8 L124.0,624.6 L125.5,625.4 L127.0,626.2 L128.5,627.0 L130.0,627.8 L131.5,628.6 L133.0,629.4 L134.5,630.2 L136.0,631.0 L137.5,631.7 L139.0,632.5 L140.5,633.3 L142.0,634.1 L143.5,634.9 L145.0,635.6 L146.5,636.4 L148.0,637.2 L149.5,638.0 L151.0,638.7 L152.5,639.5 L154.0,640.3 L155.5,641.0 L157.0,641.8 L158.5,642.5 L160.0,643.3 L161.5,644.0 L163.0,644.8 L164.5,645.5 L166.0,646.3 L167.5,647.0 L169.0,647.7 L170.5,648.5 L172.0,649.2 L173.5,649.9 L175.0,650.6 L176.5,651.3 L178.0,652.0 L179.5,652.8 L181.0,653.5 L182.5,654.2 L184.0,654.8 L185.5,655.5 L187.0,656.2 L188.5,656.9 L190.0,657.6 L191.5,658.3 L193.0,658.9 L194.5,659.6 L196.0,660.3 L197.5,660.9 L199.0,661.6 L200.5,662.2 L202.0,662.8 L203.5,663.5 L205.0,664.1 L206.5,664.7 L208.0,665.4 L209.5,666.0 L211.0,666.6 L212.5,667.2 L214.0,667.8 L215.5,668.4 L217.0,669.0 L218.5,669.5 L220.0,670.1 L221.5,670.7 L223.0,671.2 L224.5,671.8 L226.0,672.3 L227.5,672.9 L229.0,673.4 L230.5,674.0 L232.0,674.5 L233.5,675.0 L235.0,675.5 L236.5,676.0 L238.0,676.5 L239.5,677.0 L241.0,677.5 L242.5,678.0 L243.0,678.1" fill="none" stroke="#c8c8c8" stroke-width="3.4" stroke-linejoin="round" stroke-linecap="butt" />
<path d="M53.5,591.3 L55.0,592.5 L56.5,593.7 L58.0,594.9 L59.5,596.0 L61.0,597.1 L62.5,598.2 L64.0,599.3 L65.5,600.4 L67.0,601.5 L68.5,602.5 L70.0,603.6 L71.5,604.7 L73.0,605.8 L74.5,606.9 L76.0,608.1 L77.5,609.2 L79.0,610.4 L80.5,611.7 L82.0,612.9 L83.5,614.2 L85.0,615.6 L86.5,617.0 L88.0,618.4 L89.5,619.9 L91.0,621.5 L92.5,623.1 L94.0,624.8 L95.5,626.6 L97.0,628.4 L98.5,630.4 L100.0,632.4 L101.5,634.5 L103.0,636.6 L104.5,638.8 L106.0,641.0 L107.5,643.1 L109.0,645.3 L110.5,647.4 L112.0,649.4 L113.5,651.4 L115.0,653.3 L116.5,655.1 L118.0,656.8 L119.5,658.4 L121.0,660.0 L122.5,661.6 L124.0,663.1 L125.5,664.5 L127.0,665.9 L128.5,667.3 L130.0,668.6 L131.5,669.9 L133.0,671.1 L134.5,672.4 L136.0,673.6 L137.5,674.8 L139.0,676.0 L140.5,677.1 L142.0,678.3 L143.5,679.4 L145.0,680.4 L146.5,681.5 L148.0,682.5 L149.5,683.6 L151.0,684.6 L152.5,685.5 L154.0,686.5 L155.5,687.5 L157.0,688.4 L158.5,689.3 L160.0,690.2 L161.5,691.0 L163.0,691.9 L164.5,692.7 L166.0,693.6 L167.5,694.4 L169.0,695.2 L170.5,695.9 L172.0,696.7 L173.5,697.5 L175.0,698.2 L176.5,698.9 L178.0,699.6 L179.5,700.3 L181.0,701.0 L182.5,701.7 L184.0,702.4 L185.5,703.1 L187.0,703.7 L188.5,704.3 L190.0,705.0 L191.5,705.6 L193.0,706.2 L194.5,706.8 L196.0,707.4 L197.5,708.0 L199.0,708.6 L200.5,709.2 L202.0,709.8 L203.5,710.4 L205.0,710.9 L206.5,711.5 L208.0,712.1 L209.5,712.6 L211.0,713.2 L212.5,713.7 L214.0,714.3 L215.5,714.8 L217.0,715.4 L218.5,716.0 L220.0,716.5 L221.5,717.1 L223.0,717.6 L224.5,718.2 L226.0,718.7 L227.5,719.3 L229.0,719.9 L230.5,720.4 L232.0,721.0 L233.5,721.6 L235.0,722.1 L236.5,722.7 L238.0,723.3 L239.5,723.9 L241.0,724.5 L242.5,725.1 L244.0,725.7 L245.5,726.4 L247.0,727.0 L248.5,727.6 L250.0,728.3 L250.2,728.4" fill="none" stroke="#000" stroke-width="4" stroke-linejoin="round" stroke-linecap="butt" />
<text transform="translate(227.18,672.06) scale(0.840,1)" font-family='"Liberation Serif", serif' font-weight="normal" font-size="12.0"  stroke="#000" stroke-width="0.3">1mM</text>
<text transform="translate(243.65,717.73)" font-family='"Liberation Serif", serif' font-weight="normal" font-size="12.0"  stroke="#000" stroke-width="0.3">0</text>
<path d="M318.5,580.4 L320.0,581.0 L321.5,581.5 L323.0,582.1 L324.5,582.7 L326.0,583.3 L327.5,583.9 L329.0,584.5 L330.5,585.1 L332.0,585.8 L333.5,586.4 L335.0,587.1 L336.5,587.7 L338.0,588.4 L339.5,589.0 L341.0,589.7 L342.5,590.4 L344.0,591.1 L345.5,591.8 L347.0,592.5 L348.5,593.2 L350.0,593.9 L351.5,594.6 L353.0,595.3 L354.5,596.0 L356.0,596.7 L357.5,597.5 L359.0,598.2 L360.5,599.0 L362.0,599.7 L363.5,600.5 L365.0,601.2 L366.5,602.0 L368.0,602.7 L369.5,603.5 L371.0,604.3 L372.5,605.0 L374.0,605.8 L375.5,606.6 L377.0,607.3 L378.5,608.1 L380.0,608.9 L381.5,609.7 L383.0,610.5 L384.5,611.3 L386.0,612.1 L387.5,612.8 L389.0,613.6 L390.5,614.4 L392.0,615.2 L393.5,616.0 L395.0,616.8 L396.5,617.6 L398.0,618.4 L399.5,619.2 L401.0,620.0 L402.5,620.8 L404.0,621.6 L405.5,622.3 L407.0,623.1 L408.5,623.9 L410.0,624.7 L411.5,625.5 L413.0,626.3 L414.5,627.1 L416.0,627.9 L417.5,628.6 L419.0,629.4 L420.5,630.2 L422.0,631.0 L423.5,631.7 L425.0,632.5 L426.5,633.3 L428.0,634.0 L429.5,634.8 L431.0,635.5 L432.5,636.3 L434.0,637.0 L435.5,637.8 L437.0,638.5 L438.5,639.2 L440.0,640.0 L441.5,640.7 L443.0,641.4 L444.5,642.1 L446.0,642.9 L447.5,643.6 L449.0,644.3 L450.5,645.0 L452.0,645.7 L453.5,646.4 L455.0,647.0 L456.5,647.7 L458.0,648.4 L459.5,649.1 L461.0,649.7 L462.5,650.4 L464.0,651.0 L465.5,651.7 L467.0,652.3 L468.5,653.0 L470.0,653.6 L471.5,654.2 L473.0,654.8 L474.5,655.4 L476.0,656.0 L477.5,656.6 L479.0,657.2 L480.5,657.8 L482.0,658.4 L483.5,658.9 L485.0,659.5 L486.5,660.0 L488.0,660.6 L489.5,661.1 L491.0,661.6 L492.5,662.1 L494.0,662.6 L495.5,663.1 L497.0,663.6 L498.5,664.1 L500.0,664.6 L501.5,665.0 L503.0,665.5 L504.5,665.9 L506.0,666.4 L507.5,666.8 L508.1,667.0" fill="none" stroke="#e4e4e4" stroke-width="3" stroke-linejoin="round" stroke-linecap="butt" />
<path d="M318.5,581.9 L320.0,582.4 L321.5,582.9 L323.0,583.4 L324.5,583.9 L326.0,584.4 L327.5,585.0 L329.0,585.5 L330.5,586.1 L332.0,586.7 L333.5,587.3 L335.0,587.9 L336.5,588.5 L338.0,589.2 L339.5,589.8 L341.0,590.5 L342.5,591.1 L344.0,591.8 L345.5,592.5 L347.0,593.2 L348.5,594.0 L350.0,594.7 L351.5,595.4 L353.0,596.2 L354.5,596.9 L356.0,597.7 L357.5,598.5 L359.0,599.3 L360.5,600.1 L362.0,600.9 L363.5,601.7 L365.0,602.5 L366.5,603.3 L368.0,604.2 L369.5,605.0 L371.0,605.9 L372.5,606.7 L374.0,607.6 L375.5,608.4 L377.0,609.3 L378.5,610.2 L380.0,611.1 L381.5,612.0 L383.0,612.9 L384.5,613.8 L386.0,614.7 L387.5,615.6 L389.0,616.5 L390.5,617.4 L392.0,618.3 L393.5,619.2 L395.0,620.1 L396.5,621.0 L398.0,621.9 L399.5,622.9 L401.0,623.8 L402.5,624.7 L404.0,625.6 L405.5,626.5 L407.0,627.4 L408.5,628.4 L410.0,629.3 L411.5,630.2 L413.0,631.1 L414.5,632.0 L416.0,632.9 L417.5,633.8 L419.0,634.7 L420.5,635.6 L422.0,636.5 L423.5,637.4 L425.0,638.3 L426.5,639.2 L428.0,640.1 L429.5,641.0 L431.0,641.8 L432.5,642.7 L434.0,643.5 L435.5,644.4 L437.0,645.2 L438.5,646.1 L440.0,646.9 L441.5,647.7 L443.0,648.5 L444.5,649.4 L446.0,650.2 L447.5,650.9 L449.0,651.7 L450.5,652.5 L452.0,653.3 L453.5,654.0 L455.0,654.7 L456.5,655.5 L458.0,656.2 L459.5,656.9 L461.0,657.6 L462.5,658.3 L464.0,659.0 L465.5,659.6 L467.0,660.3 L468.5,660.9 L470.0,661.5 L471.5,662.1 L473.0,662.7 L474.5,663.3 L476.0,663.9 L477.5,664.4 L479.0,665.0 L480.5,665.5 L482.0,666.0 L483.5,666.5 L485.0,667.0 L486.5,667.4 L488.0,667.8 L489.5,668.3 L491.0,668.7 L492.5,669.1 L494.0,669.4 L495.5,669.8 L497.0,670.1 L498.5,670.4 L500.0,670.7 L501.5,671.0 L503.0,671.2 L504.5,671.5 L506.0,671.7 L507.5,671.9 L508.1,671.9" fill="none" stroke="#c8c8c8" stroke-width="3" stroke-linejoin="round" stroke-linecap="butt" />
<path d="M318.5,583.0 L320.0,583.7 L321.5,584.5 L323.0,585.3 L324.5,586.0 L326.0,586.8 L327.5,587.5 L329.0,588.3 L330.5,589.0 L332.0,589.8 L333.5,590.5 L335.0,591.3 L336.5,592.0 L338.0,592.8 L339.5,593.5 L341.0,594.2 L342.5,595.0 L344.0,595.7 L345.5,596.5 L347.0,597.2 L348.5,598.0 L350.0,598.7 L351.5,599.5 L353.0,600.3 L354.5,601.0 L356.0,601.8 L357.5,602.6 L359.0,603.4 L360.5,604.2 L362.0,605.0 L363.5,605.8 L365.0,606.6 L366.5,607.4 L368.0,608.2 L369.5,609.1 L371.0,609.9 L372.5,610.8 L374.0,611.6 L375.5,612.5 L377.0,613.4 L378.5,614.3 L380.0,615.2 L381.5,616.1 L383.0,617.0 L384.5,617.9 L386.0,618.8 L387.5,619.7 L389.0,620.6 L390.5,621.6 L392.0,622.5 L393.5,623.4 L395.0,624.4 L396.5,625.3 L398.0,626.3 L399.5,627.2 L401.0,628.2 L402.5,629.1 L404.0,630.1 L405.5,631.0 L407.0,632.0 L408.5,632.9 L410.0,633.9 L411.5,634.8 L413.0,635.8 L414.5,636.7 L416.0,637.7 L417.5,638.6 L419.0,639.5 L420.5,640.5 L422.0,641.4 L423.5,642.3 L425.0,643.2 L426.5,644.1 L428.0,645.1 L429.5,646.0 L431.0,646.9 L432.5,647.8 L434.0,648.7 L435.5,649.6 L437.0,650.4 L438.5,651.3 L440.0,652.2 L441.5,653.1 L443.0,653.9 L444.5,654.8 L446.0,655.6 L447.5,656.5 L449.0,657.3 L450.5,658.2 L452.0,659.0 L453.5,659.8 L455.0,660.6 L456.5,661.4 L458.0,662.2 L459.5,663.0 L461.0,663.8 L462.5,664.6 L464.0,665.4 L465.5,666.2 L467.0,666.9 L468.5,667.7 L470.0,668.4 L471.5,669.1 L473.0,669.9 L474.5,670.6 L476.0,671.3 L477.5,672.0 L479.0,672.7 L480.5,673.4 L482.0,674.1 L483.5,674.7 L485.0,675.4 L486.5,676.0 L488.0,676.7 L489.5,677.3 L491.0,677.9 L492.5,678.5 L494.0,679.1 L495.5,679.7 L497.0,680.3 L498.5,680.8 L500.0,681.4 L501.5,681.9 L503.0,682.5 L504.5,683.0 L506.0,683.5 L507.4,684.0" fill="none" stroke="#a6a6a6" stroke-width="3" stroke-linejoin="round" stroke-linecap="butt" />
<path d="M318.5,586.1 L320.0,586.7 L321.5,587.3 L323.0,588.1 L324.5,588.9 L326.0,589.8 L327.5,590.8 L329.0,591.9 L330.5,593.0 L332.0,594.2 L333.5,595.4 L335.0,596.7 L336.5,598.1 L338.0,599.4 L339.5,600.9 L341.0,602.3 L342.5,603.8 L344.0,605.3 L345.5,606.8 L347.0,608.3 L348.5,609.9 L350.0,611.4 L351.5,612.9 L353.0,614.5 L354.5,616.0 L356.0,617.5 L357.5,619.0 L359.0,620.5 L360.5,622.0 L362.0,623.5 L363.5,625.0 L365.0,626.4 L366.5,627.9 L368.0,629.4 L369.5,630.8 L371.0,632.2 L372.5,633.6 L374.0,635.0 L375.5,636.4 L377.0,637.8 L378.5,639.1 L380.0,640.4 L381.5,641.7 L383.0,643.0 L384.5,644.3 L386.0,645.6 L387.5,646.8 L389.0,648.0 L390.5,649.2 L392.0,650.4 L393.5,651.5 L395.0,652.6 L396.5,653.7 L398.0,654.8 L399.5,655.9 L401.0,656.9 L402.5,657.9 L404.0,658.9 L405.5,659.9 L407.0,660.8 L408.5,661.8 L410.0,662.7 L411.5,663.6 L413.0,664.5 L414.5,665.3 L416.0,666.2 L417.5,667.0 L419.0,667.8 L420.5,668.6 L422.0,669.4 L423.5,670.1 L425.0,670.9 L426.5,671.6 L428.0,672.4 L429.5,673.1 L431.0,673.8 L432.5,674.5 L434.0,675.2 L435.5,675.8 L437.0,676.5 L438.5,677.2 L440.0,677.8 L441.5,678.4 L443.0,679.1 L444.5,679.7 L446.0,680.3 L447.5,680.9 L449.0,681.5 L450.5,682.1 L452.0,682.7 L453.5,683.3 L455.0,683.9 L456.5,684.5 L458.0,685.1 L459.5,685.6 L461.0,686.2 L462.5,686.8 L464.0,687.4 L465.5,687.9 L467.0,688.5 L468.5,689.1 L470.0,689.7 L471.5,690.3 L473.0,690.8 L474.5,691.4 L476.0,692.0 L477.5,692.6 L479.0,693.2 L480.5,693.8 L482.0,694.4 L483.5,695.0 L485.0,695.6 L486.5,696.3 L488.0,696.9 L489.5,697.5 L491.0,698.2 L492.5,698.9 L494.0,699.5 L495.5,700.2 L497.0,700.9 L498.5,701.6 L500.0,702.3 L501.5,703.0 L503.0,703.8 L504.5,704.5 L506.0,705.3 L507.4,706.0" fill="none" stroke="#696969" stroke-width="3" stroke-linejoin="round" stroke-linecap="butt" />
<path d="M318.5,586.5 L320.0,586.9 L321.5,587.6 L323.0,588.5 L324.5,589.6 L326.0,590.9 L327.5,592.3 L329.0,593.9 L330.5,595.6 L332.0,597.4 L333.5,599.3 L335.0,601.2 L336.5,603.2 L338.0,605.1 L339.5,607.0 L341.0,608.9 L342.5,610.7 L344.0,612.4 L345.5,614.1 L347.0,615.6 L348.5,617.1 L350.0,618.5 L351.5,619.9 L353.0,621.2 L354.5,622.4 L356.0,623.7 L357.5,624.9 L359.0,626.0 L360.5,627.2 L362.0,628.3 L363.5,629.5 L365.0,630.7 L366.5,631.8 L368.0,633.0 L369.5,634.3 L371.0,635.5 L372.5,636.9 L374.0,638.2 L375.5,639.6 L377.0,641.0 L378.5,642.4 L380.0,643.9 L381.5,645.4 L383.0,646.9 L384.5,648.4 L386.0,649.9 L387.5,651.5 L389.0,653.0 L390.5,654.6 L392.0,656.1 L393.5,657.7 L395.0,659.2 L396.5,660.8 L398.0,662.3 L399.5,663.9 L401.0,665.4 L402.5,666.9 L404.0,668.4 L405.5,669.8 L407.0,671.3 L408.5,672.7 L410.0,674.1 L411.5,675.5 L413.0,676.9 L414.5,678.2 L416.0,679.5 L417.5,680.8 L419.0,682.1 L420.5,683.4 L422.0,684.6 L423.5,685.8 L425.0,687.0 L426.5,688.2 L428.0,689.4 L429.5,690.5 L431.0,691.6 L432.5,692.7 L434.0,693.7 L435.5,694.8 L437.0,695.8 L438.5,696.7 L440.0,697.7 L441.5,698.6 L443.0,699.5 L444.5,700.4 L446.0,701.3 L447.5,702.1 L449.0,702.9 L450.5,703.7 L452.0,704.5 L453.5,705.2 L455.0,705.9 L456.5,706.6 L458.0,707.3 L459.5,707.9 L461.0,708.6 L462.5,709.2 L464.0,709.8 L465.5,710.4 L467.0,711.0 L468.5,711.6 L470.0,712.2 L471.5,712.7 L473.0,713.3 L474.5,713.8 L476.0,714.4 L477.5,715.0 L479.0,715.5 L480.5,716.1 L482.0,716.6 L483.5,717.2 L485.0,717.8 L486.5,718.4 L488.0,719.0 L489.5,719.6 L491.0,720.2 L492.5,720.9 L494.0,721.5 L495.5,722.2 L497.0,722.9 L498.5,723.6 L500.0,724.3 L501.5,725.1 L503.0,725.8 L504.5,726.6 L506.0,727.5 L507.4,728.3" fill="none" stroke="#000" stroke-width="3.5" stroke-linejoin="round" stroke-linecap="butt" />
<text transform="translate(482.00,643.57) scale(0.840,1)" font-family='"Liberation Serif", serif' font-weight="normal" font-size="12.0"  stroke="#000" stroke-width="0.3">2mM</text>
<text transform="translate(490.98,657.66) scale(0.840,1)" font-family='"Liberation Serif", serif' font-weight="normal" font-size="12.0"  stroke="#000" stroke-width="0.3">1mM</text>
<text transform="translate(487.85,696.81) scale(0.840,1)" font-family='"Liberation Serif", serif' font-weight="normal" font-size="12.0"  stroke="#000" stroke-width="0.3">0.5mM</text>
<text transform="translate(490.05,718.41) scale(0.840,1)" font-family='"Liberation Serif", serif' font-weight="normal" font-size="12.0"  stroke="#000" stroke-width="0.3">0.1mM</text>
<text transform="translate(500.20,742.43)" font-family='"Liberation Serif", serif' font-weight="normal" font-size="12.0"  stroke="#000" stroke-width="0.3">0</text>
<line x1="41.60" y1="16.58" x2="41.60" y2="208.22" stroke="#000" stroke-width="2.05"/>
<line x1="36.30" y1="17.60" x2="41.60" y2="17.60" stroke="#000" stroke-width="2.05"/>
<line x1="36.30" y1="80.50" x2="41.60" y2="80.50" stroke="#000" stroke-width="2.05"/>
<line x1="36.30" y1="143.50" x2="41.60" y2="143.50" stroke="#000" stroke-width="2.05"/>
<line x1="36.30" y1="207.20" x2="44.20" y2="207.20" stroke="#000" stroke-width="2.05"/>
<line x1="41.60" y1="218.47" x2="41.60" y2="234.80" stroke="#000" stroke-width="2.05"/>
<line x1="36.30" y1="219.50" x2="44.20" y2="219.50" stroke="#000" stroke-width="2.05"/>
<line x1="36.30" y1="234.80" x2="234.50" y2="234.80" stroke="#000" stroke-width="2.05"/>
<line x1="41.60" y1="234.80" x2="41.60" y2="239.60" stroke="#000" stroke-width="2.05"/>
<line x1="121.00" y1="234.80" x2="121.00" y2="239.60" stroke="#000" stroke-width="2.05"/>
<line x1="200.60" y1="234.80" x2="200.60" y2="239.60" stroke="#000" stroke-width="2.05"/>
<text transform="translate(17.41,21.24) scale(0.910,1)" font-family='"Liberation Serif", serif' font-weight="normal" font-size="13.1"  stroke="#000" stroke-width="0.3">100</text>
<text transform="translate(23.29,84.79) scale(0.910,1)" font-family='"Liberation Serif", serif' font-weight="normal" font-size="13.1"  stroke="#000" stroke-width="0.3">80</text>
<text transform="translate(21.66,146.14) scale(0.910,1)" font-family='"Liberation Serif", serif' font-weight="normal" font-size="13.1"  stroke="#000" stroke-width="0.3">60</text>
<text transform="translate(21.15,210.29) scale(0.910,1)" font-family='"Liberation Serif", serif' font-weight="normal" font-size="13.1"  stroke="#000" stroke-width="0.3">40</text>
<text transform="translate(26.71,225.12) scale(0.910,1)" font-family='"Liberation Serif", serif' font-weight="normal" font-size="13.1"  stroke="#000" stroke-width="0.3">5</text>
<text transform="translate(26.82,240.29) scale(0.910,1)" font-family='"Liberation Serif", serif' font-weight="normal" font-size="13.1"  stroke="#000" stroke-width="0.3">0</text>
<text transform="translate(38.92,253.39) scale(0.910,1)" font-family='"Liberation Serif", serif' font-weight="normal" font-size="13.1"  stroke="#000" stroke-width="0.3">0</text>
<text transform="translate(111.24,252.59) scale(0.910,1)" font-family='"Liberation Serif", serif' font-weight="normal" font-size="13.1"  stroke="#000" stroke-width="0.3">500</text>
<text transform="translate(187.28,252.29) scale(0.910,1)" font-family='"Liberation Serif", serif' font-weight="normal" font-size="13.1"  stroke="#000" stroke-width="0.3">1000</text>
<text transform="translate(0.71,12.55)" font-family='"Liberation Sans", sans-serif' font-weight="bold" font-size="17.6" stroke="#000" stroke-width="0.5">A</text>
<text transform="translate(103.00,267.23)" font-family='"Liberation Serif", serif' font-weight="normal" font-size="13"  stroke="#000" stroke-width="0.3">Time (sec)</text>
<text transform="translate(9.49,186.39) rotate(-90)" font-family='"Liberation Serif", serif' font-weight="normal" font-size="13.25"  stroke="#000" stroke-width="0.3">Relative Clot Size (%)</text>
<text transform="translate(47.98,215.65)" font-family='"Liberation Serif", serif' font-weight="normal" font-size="13"  stroke="#000" stroke-width="0.3">Calcium ions</text>
<line x1="315.60" y1="16.38" x2="315.60" y2="207.93" stroke="#000" stroke-width="2.05"/>
<line x1="310.30" y1="17.40" x2="315.60" y2="17.40" stroke="#000" stroke-width="2.05"/>
<line x1="310.30" y1="79.70" x2="315.60" y2="79.70" stroke="#000" stroke-width="2.05"/>
<line x1="310.30" y1="143.40" x2="315.60" y2="143.40" stroke="#000" stroke-width="2.05"/>
<line x1="310.30" y1="206.90" x2="318.20" y2="206.90" stroke="#000" stroke-width="2.05"/>
<line x1="315.60" y1="218.17" x2="315.60" y2="234.60" stroke="#000" stroke-width="2.05"/>
<line x1="310.30" y1="219.20" x2="318.20" y2="219.20" stroke="#000" stroke-width="2.05"/>
<line x1="310.30" y1="234.60" x2="511.40" y2="234.60" stroke="#000" stroke-width="2.05"/>
<line x1="315.60" y1="234.60" x2="315.60" y2="239.40" stroke="#000" stroke-width="2.05"/>
<line x1="396.30" y1="234.60" x2="396.30" y2="239.40" stroke="#000" stroke-width="2.05"/>
<line x1="476.90" y1="234.60" x2="476.90" y2="239.40" stroke="#000" stroke-width="2.05"/>
<text transform="translate(291.76,21.54) scale(0.910,1)" font-family='"Liberation Serif", serif' font-weight="normal" font-size="13.1"  stroke="#000" stroke-width="0.3">100</text>
<text transform="translate(297.39,84.54) scale(0.910,1)" font-family='"Liberation Serif", serif' font-weight="normal" font-size="13.1"  stroke="#000" stroke-width="0.3">80</text>
<text transform="translate(295.96,145.69) scale(0.910,1)" font-family='"Liberation Serif", serif' font-weight="normal" font-size="13.1"  stroke="#000" stroke-width="0.3">60</text>
<text transform="translate(295.70,210.64) scale(0.910,1)" font-family='"Liberation Serif", serif' font-weight="normal" font-size="13.1"  stroke="#000" stroke-width="0.3">40</text>
<text transform="translate(301.06,225.47) scale(0.910,1)" font-family='"Liberation Serif", serif' font-weight="normal" font-size="13.1"  stroke="#000" stroke-width="0.3">5</text>
<text transform="translate(301.17,240.44) scale(0.910,1)" font-family='"Liberation Serif", serif' font-weight="normal" font-size="13.1"  stroke="#000" stroke-width="0.3">0</text>
<text transform="translate(313.12,253.44) scale(0.910,1)" font-family='"Liberation Serif", serif' font-weight="normal" font-size="13.1"  stroke="#000" stroke-width="0.3">0</text>
<text transform="translate(385.54,252.89) scale(0.910,1)" font-family='"Liberation Serif", serif' font-weight="normal" font-size="13.1"  stroke="#000" stroke-width="0.3">500</text>
<text transform="translate(462.38,251.24) scale(0.910,1)" font-family='"Liberation Serif", serif' font-weight="normal" font-size="13.1"  stroke="#000" stroke-width="0.3">1000</text>
<text transform="translate(262.56,12.50)" font-family='"Liberation Sans", sans-serif' font-weight="bold" font-size="17.6" stroke="#000" stroke-width="0.5">B</text>
<text transform="translate(379.90,267.48)" font-family='"Liberation Serif", serif' font-weight="normal" font-size="13"  stroke="#000" stroke-width="0.3">Time (sec)</text>
<text transform="translate(283.54,186.29) rotate(-90)" font-family='"Liberation Serif", serif' font-weight="normal" font-size="13.25"  stroke="#000" stroke-width="0.3">Relative Clot Size (%)</text>
<text transform="translate(322.78,213.75)" font-family='"Liberation Serif", serif' font-weight="normal" font-size="13"  stroke="#000" stroke-width="0.3">Thrombin</text>
<line x1="50.10" y1="281.68" x2="50.10" y2="468.52" stroke="#000" stroke-width="2.05"/>
<line x1="44.80" y1="282.70" x2="50.10" y2="282.70" stroke="#000" stroke-width="2.05"/>
<line x1="44.80" y1="344.40" x2="50.10" y2="344.40" stroke="#000" stroke-width="2.05"/>
<line x1="44.80" y1="406.20" x2="50.10" y2="406.20" stroke="#000" stroke-width="2.05"/>
<line x1="44.80" y1="467.50" x2="52.70" y2="467.50" stroke="#000" stroke-width="2.05"/>
<line x1="50.10" y1="485.68" x2="50.10" y2="507.20" stroke="#000" stroke-width="2.05"/>
<line x1="44.80" y1="486.70" x2="52.70" y2="486.70" stroke="#000" stroke-width="2.05"/>
<line x1="44.80" y1="507.20" x2="250.20" y2="507.20" stroke="#000" stroke-width="2.05"/>
<line x1="50.10" y1="507.20" x2="50.10" y2="512.00" stroke="#000" stroke-width="2.05"/>
<line x1="132.90" y1="507.20" x2="132.90" y2="512.00" stroke="#000" stroke-width="2.05"/>
<line x1="216.30" y1="507.20" x2="216.30" y2="512.00" stroke="#000" stroke-width="2.05"/>
<text transform="translate(25.76,287.89) scale(0.910,1)" font-family='"Liberation Serif", serif' font-weight="normal" font-size="13.1"  stroke="#000" stroke-width="0.3">100</text>
<text transform="translate(32.64,349.54) scale(0.910,1)" font-family='"Liberation Serif", serif' font-weight="normal" font-size="13.1"  stroke="#000" stroke-width="0.3">80</text>
<text transform="translate(32.11,409.74) scale(0.910,1)" font-family='"Liberation Serif", serif' font-weight="normal" font-size="13.1"  stroke="#000" stroke-width="0.3">60</text>
<text transform="translate(30.90,472.44) scale(0.910,1)" font-family='"Liberation Serif", serif' font-weight="normal" font-size="13.1"  stroke="#000" stroke-width="0.3">40</text>
<text transform="translate(36.76,490.87) scale(0.910,1)" font-family='"Liberation Serif", serif' font-weight="normal" font-size="13.1"  stroke="#000" stroke-width="0.3">5</text>
<text transform="translate(36.87,509.69) scale(0.910,1)" font-family='"Liberation Serif", serif' font-weight="normal" font-size="13.1"  stroke="#000" stroke-width="0.3">0</text>
<text transform="translate(47.02,525.59) scale(0.910,1)" font-family='"Liberation Serif", serif' font-weight="normal" font-size="13.1"  stroke="#000" stroke-width="0.3">0</text>
<text transform="translate(122.79,525.94) scale(0.910,1)" font-family='"Liberation Serif", serif' font-weight="normal" font-size="13.1"  stroke="#000" stroke-width="0.3">500</text>
<text transform="translate(203.93,525.79) scale(0.910,1)" font-family='"Liberation Serif", serif' font-weight="normal" font-size="13.1"  stroke="#000" stroke-width="0.3">1000</text>
<text transform="translate(0.82,279.86)" font-family='"Liberation Sans", sans-serif' font-weight="bold" font-size="17.6" stroke="#000" stroke-width="0.5">C</text>
<text transform="translate(119.40,541.53)" font-family='"Liberation Serif", serif' font-weight="normal" font-size="13"  stroke="#000" stroke-width="0.3">Time (sec)</text>
<text transform="translate(22.84,452.99) rotate(-90)" font-family='"Liberation Serif", serif' font-weight="normal" font-size="13.25"  stroke="#000" stroke-width="0.3">Relative Clot Size (%)</text>
<text transform="translate(56.75,480.05)" font-family='"Liberation Serif", serif' font-weight="normal" font-size="13"  stroke="#000" stroke-width="0.3">Blebbistatin</text>
<line x1="314.20" y1="290.48" x2="314.20" y2="471.82" stroke="#000" stroke-width="2.05"/>
<line x1="308.90" y1="291.50" x2="314.20" y2="291.50" stroke="#000" stroke-width="2.05"/>
<line x1="308.90" y1="351.30" x2="314.20" y2="351.30" stroke="#000" stroke-width="2.05"/>
<line x1="308.90" y1="411.20" x2="314.20" y2="411.20" stroke="#000" stroke-width="2.05"/>
<line x1="308.90" y1="470.80" x2="316.80" y2="470.80" stroke="#000" stroke-width="2.05"/>
<line x1="314.20" y1="484.18" x2="314.20" y2="504.90" stroke="#000" stroke-width="2.05"/>
<line x1="308.90" y1="485.20" x2="316.80" y2="485.20" stroke="#000" stroke-width="2.05"/>
<line x1="308.90" y1="504.90" x2="516.90" y2="504.90" stroke="#000" stroke-width="2.05"/>
<line x1="314.20" y1="504.90" x2="314.20" y2="509.70" stroke="#000" stroke-width="2.05"/>
<line x1="399.00" y1="504.90" x2="399.00" y2="509.70" stroke="#000" stroke-width="2.05"/>
<line x1="483.00" y1="504.90" x2="483.00" y2="509.70" stroke="#000" stroke-width="2.05"/>
<text transform="translate(289.66,296.69) scale(0.910,1)" font-family='"Liberation Serif", serif' font-weight="normal" font-size="13.1"  stroke="#000" stroke-width="0.3">100</text>
<text transform="translate(295.14,355.29) scale(0.910,1)" font-family='"Liberation Serif", serif' font-weight="normal" font-size="13.1"  stroke="#000" stroke-width="0.3">80</text>
<text transform="translate(294.86,415.49) scale(0.910,1)" font-family='"Liberation Serif", serif' font-weight="normal" font-size="13.1"  stroke="#000" stroke-width="0.3">60</text>
<text transform="translate(294.00,475.59) scale(0.910,1)" font-family='"Liberation Serif", serif' font-weight="normal" font-size="13.1"  stroke="#000" stroke-width="0.3">40</text>
<text transform="translate(300.11,489.72) scale(0.910,1)" font-family='"Liberation Serif", serif' font-weight="normal" font-size="13.1"  stroke="#000" stroke-width="0.3">5</text>
<text transform="translate(300.62,509.69) scale(0.910,1)" font-family='"Liberation Serif", serif' font-weight="normal" font-size="13.1"  stroke="#000" stroke-width="0.3">0</text>
<text transform="translate(311.42,524.09) scale(0.910,1)" font-family='"Liberation Serif", serif' font-weight="normal" font-size="13.1"  stroke="#000" stroke-width="0.3">0</text>
<text transform="translate(388.94,523.49) scale(0.910,1)" font-family='"Liberation Serif", serif' font-weight="normal" font-size="13.1"  stroke="#000" stroke-width="0.3">500</text>
<text transform="translate(468.88,521.94) scale(0.910,1)" font-family='"Liberation Serif", serif' font-weight="normal" font-size="13.1"  stroke="#000" stroke-width="0.3">1000</text>
<text transform="translate(262.58,280.00)" font-family='"Liberation Sans", sans-serif' font-weight="bold" font-size="17.6" stroke="#000" stroke-width="0.5">D</text>
<text transform="translate(386.55,540.38)" font-family='"Liberation Serif", serif' font-weight="normal" font-size="13"  stroke="#000" stroke-width="0.3">Time (sec)</text>
<text transform="translate(286.84,454.44) rotate(-90)" font-family='"Liberation Serif", serif' font-weight="normal" font-size="13.25"  stroke="#000" stroke-width="0.3">Relative Clot Size (%)</text>
<text transform="translate(321.73,481.24)" font-family='"Liberation Serif", serif' font-weight="normal" font-size="13"  stroke="#000" stroke-width="0.3">RGDS</text>
<line x1="51.40" y1="573.77" x2="51.40" y2="760.52" stroke="#000" stroke-width="2.05"/>
<line x1="46.10" y1="574.80" x2="51.40" y2="574.80" stroke="#000" stroke-width="2.05"/>
<line x1="46.10" y1="636.00" x2="51.40" y2="636.00" stroke="#000" stroke-width="2.05"/>
<line x1="46.10" y1="697.60" x2="51.40" y2="697.60" stroke="#000" stroke-width="2.05"/>
<line x1="46.10" y1="759.50" x2="54.00" y2="759.50" stroke="#000" stroke-width="2.05"/>
<line x1="51.40" y1="777.27" x2="51.40" y2="799.10" stroke="#000" stroke-width="2.05"/>
<line x1="46.10" y1="778.30" x2="54.00" y2="778.30" stroke="#000" stroke-width="2.05"/>
<line x1="46.10" y1="799.10" x2="250.80" y2="799.10" stroke="#000" stroke-width="2.05"/>
<line x1="51.40" y1="799.10" x2="51.40" y2="803.90" stroke="#000" stroke-width="2.05"/>
<line x1="134.50" y1="799.10" x2="134.50" y2="803.90" stroke="#000" stroke-width="2.05"/>
<line x1="218.50" y1="799.10" x2="218.50" y2="803.90" stroke="#000" stroke-width="2.05"/>
<text transform="translate(25.86,580.59) scale(0.910,1)" font-family='"Liberation Serif", serif' font-weight="normal" font-size="13.1"  stroke="#000" stroke-width="0.3">100</text>
<text transform="translate(33.04,640.29) scale(0.910,1)" font-family='"Liberation Serif", serif' font-weight="normal" font-size="13.1"  stroke="#000" stroke-width="0.3">80</text>
<text transform="translate(32.76,701.89) scale(0.910,1)" font-family='"Liberation Serif", serif' font-weight="normal" font-size="13.1"  stroke="#000" stroke-width="0.3">60</text>
<text transform="translate(31.90,763.14) scale(0.910,1)" font-family='"Liberation Serif", serif' font-weight="normal" font-size="13.1"  stroke="#000" stroke-width="0.3">40</text>
<text transform="translate(37.56,784.52) scale(0.910,1)" font-family='"Liberation Serif", serif' font-weight="normal" font-size="13.1"  stroke="#000" stroke-width="0.3">5</text>
<text transform="translate(37.67,803.79) scale(0.910,1)" font-family='"Liberation Serif", serif' font-weight="normal" font-size="13.1"  stroke="#000" stroke-width="0.3">0</text>
<text transform="translate(48.92,819.64) scale(0.910,1)" font-family='"Liberation Serif", serif' font-weight="normal" font-size="13.1"  stroke="#000" stroke-width="0.3">0</text>
<text transform="translate(124.49,819.69) scale(0.910,1)" font-family='"Liberation Serif", serif' font-weight="normal" font-size="13.1"  stroke="#000" stroke-width="0.3">500</text>
<text transform="translate(202.73,818.29) scale(0.910,1)" font-family='"Liberation Serif", serif' font-weight="normal" font-size="13.1"  stroke="#000" stroke-width="0.3">1000</text>
<text transform="translate(0.69,572.30)" font-family='"Liberation Sans", sans-serif' font-weight="bold" font-size="17.6" stroke="#000" stroke-width="0.5">E</text>
<text transform="translate(119.90,833.93)" font-family='"Liberation Serif", serif' font-weight="normal" font-size="13"  stroke="#000" stroke-width="0.3">Time (sec)</text>
<text transform="translate(21.84,754.49) rotate(-90)" font-family='"Liberation Serif", serif' font-weight="normal" font-size="13.25"  stroke="#000" stroke-width="0.3">Relative Clot Size (%)</text>
<text transform="translate(58.38,772.15)" font-family='"Liberation Serif", serif' font-weight="normal" font-size="13"  stroke="#000" stroke-width="0.3">Iodoacetamide</text>
<line x1="316.40" y1="576.08" x2="316.40" y2="762.62" stroke="#000" stroke-width="2.05"/>
<line x1="311.10" y1="577.10" x2="316.40" y2="577.10" stroke="#000" stroke-width="2.05"/>
<line x1="311.10" y1="638.40" x2="316.40" y2="638.40" stroke="#000" stroke-width="2.05"/>
<line x1="311.10" y1="700.20" x2="316.40" y2="700.20" stroke="#000" stroke-width="2.05"/>
<line x1="311.10" y1="761.60" x2="319.00" y2="761.60" stroke="#000" stroke-width="2.05"/>
<line x1="316.40" y1="780.18" x2="316.40" y2="801.10" stroke="#000" stroke-width="2.05"/>
<line x1="311.10" y1="781.20" x2="319.00" y2="781.20" stroke="#000" stroke-width="2.05"/>
<line x1="311.10" y1="801.10" x2="515.40" y2="801.10" stroke="#000" stroke-width="2.05"/>
<line x1="316.40" y1="801.10" x2="316.40" y2="805.90" stroke="#000" stroke-width="2.05"/>
<line x1="400.00" y1="801.10" x2="400.00" y2="805.90" stroke="#000" stroke-width="2.05"/>
<line x1="483.10" y1="801.10" x2="483.10" y2="805.90" stroke="#000" stroke-width="2.05"/>
<text transform="translate(292.06,583.14) scale(0.910,1)" font-family='"Liberation Serif", serif' font-weight="normal" font-size="13.1"  stroke="#000" stroke-width="0.3">100</text>
<text transform="translate(297.24,643.14) scale(0.910,1)" font-family='"Liberation Serif", serif' font-weight="normal" font-size="13.1"  stroke="#000" stroke-width="0.3">80</text>
<text transform="translate(297.21,703.54) scale(0.910,1)" font-family='"Liberation Serif", serif' font-weight="normal" font-size="13.1"  stroke="#000" stroke-width="0.3">60</text>
<text transform="translate(297.70,765.64) scale(0.910,1)" font-family='"Liberation Serif", serif' font-weight="normal" font-size="13.1"  stroke="#000" stroke-width="0.3">40</text>
<text transform="translate(303.36,785.22) scale(0.910,1)" font-family='"Liberation Serif", serif' font-weight="normal" font-size="13.1"  stroke="#000" stroke-width="0.3">5</text>
<text transform="translate(303.47,804.79) scale(0.910,1)" font-family='"Liberation Serif", serif' font-weight="normal" font-size="13.1"  stroke="#000" stroke-width="0.3">0</text>
<text transform="translate(315.02,819.64) scale(0.910,1)" font-family='"Liberation Serif", serif' font-weight="normal" font-size="13.1"  stroke="#000" stroke-width="0.3">0</text>
<text transform="translate(389.69,821.69) scale(0.910,1)" font-family='"Liberation Serif", serif' font-weight="normal" font-size="13.1"  stroke="#000" stroke-width="0.3">500</text>
<text transform="translate(468.53,821.19) scale(0.910,1)" font-family='"Liberation Serif", serif' font-weight="normal" font-size="13.1"  stroke="#000" stroke-width="0.3">1000</text>
<text transform="translate(262.61,572.20)" font-family='"Liberation Sans", sans-serif' font-weight="bold" font-size="17.6" stroke="#000" stroke-width="0.5">F</text>
<text transform="translate(388.80,833.53)" font-family='"Liberation Serif", serif' font-weight="normal" font-size="13"  stroke="#000" stroke-width="0.3">Time (sec)</text>
<text transform="translate(289.49,753.29) rotate(-90)" font-family='"Liberation Serif", serif' font-weight="normal" font-size="13.25"  stroke="#000" stroke-width="0.3">Relative Clot Size (%)</text>
<text transform="translate(322.16,775.30)" font-family='"Liberation Serif", serif' font-weight="normal" font-size="13"  stroke="#000" stroke-width="0.3">Cystamine</text>
</svg></body></html>
